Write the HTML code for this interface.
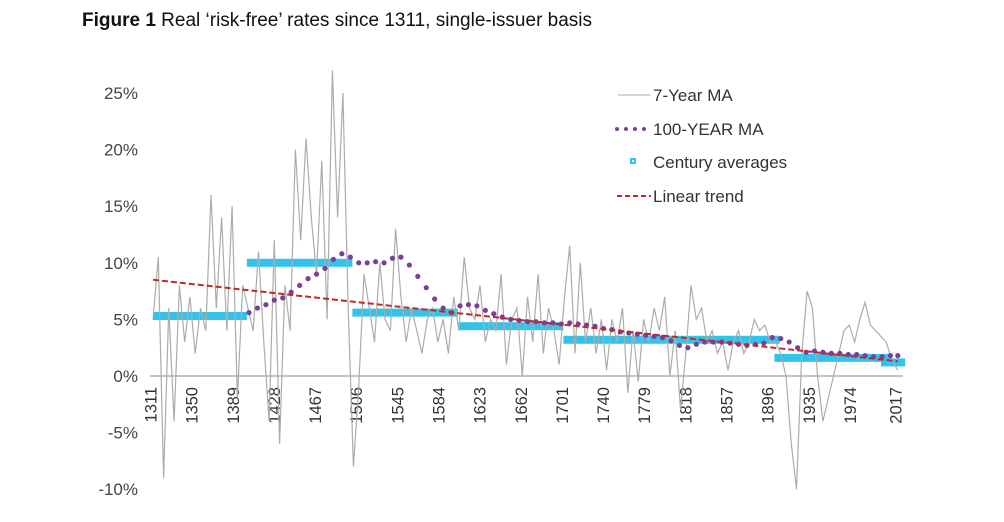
<!DOCTYPE html>
<html><head><meta charset="utf-8">
<style>
html,body{margin:0;padding:0;background:#fff;}
body{width:1004px;height:517px;overflow:hidden;font-family:"Liberation Sans",Arial,sans-serif;}
svg text{font-family:"Liberation Sans",Arial,sans-serif;}
</style></head>
<body>
<svg id="chart" width="1004" height="517" viewBox="0 0 1004 517" xmlns="http://www.w3.org/2000/svg">
<text x="82" y="26" font-size="19" fill="#111"><tspan font-weight="bold">Figure 1</tspan> Real ‘risk-free’ rates since 1311, single-issuer basis</text>
<g id="yaxis"></g>
<g id="xaxis"></g>
<g id="plot"></g>
<g id="legend">
<g><line x1="618" y1="95" x2="650" y2="95" stroke="#a9aea9" stroke-width="1"/><text x="653" y="101" font-size="17" fill="#333">7-Year MA</text></g>
<g><circle cx="617" cy="129" r="2" fill="#7b3f98"/><circle cx="626" cy="129" r="2" fill="#7b3f98"/><circle cx="635" cy="129" r="2" fill="#7b3f98"/><circle cx="644" cy="129" r="2" fill="#7b3f98"/><text x="653" y="135" font-size="17" fill="#333">100-YEAR MA</text></g>
<g><rect x="630" y="158" width="6" height="6" fill="#33c3ea"/><rect x="632" y="160" width="2" height="2" fill="#fff"/><text x="653" y="168" font-size="17" fill="#333">Century averages</text></g>
<g><line x1="617" y1="196" x2="651" y2="196" stroke="#c0282d" stroke-width="2" stroke-dasharray="5,3"/><text x="653" y="202" font-size="17" fill="#333">Linear trend</text></g>
</g>
</svg>
<script>
const yTicks=[25,20,15,10,5,0,-5,-10];
const xTicks=[1311,1350,1389,1428,1467,1506,1545,1584,1623,1662,1701,1740,1779,1818,1857,1896,1935,1974,2017];
const maYears=[1311,1316,1321,1326,1331,1336,1341,1346,1351,1356,1361,1366,1371,1376,1381,1386,1391,1396,1401,1406,1411,1416,1421,1426,1431,1436,1441,1446,1451,1456,1461,1466,1471,1476,1481,1486,1491,1496,1501,1506,1511,1516,1521,1526,1531,1536,1541,1546,1551,1556,1561,1566,1571,1576,1581,1586,1591,1596,1601,1606,1611,1616,1621,1626,1631,1636,1641,1646,1651,1656,1661,1666,1671,1676,1681,1686,1691,1696,1701,1706,1711,1716,1721,1726,1731,1736,1741,1746,1751,1756,1761,1766,1771,1776,1781,1786,1791,1796,1801,1806,1811,1816,1821,1826,1831,1836,1841,1846,1851,1856,1861,1866,1871,1876,1881,1886,1891,1896,1901,1906,1911,1916,1921,1926,1931,1936,1941,1946,1951,1956,1961,1966,1971,1976,1981,1986,1991,1996,2001,2006,2011,2017];
const maValues=[5,10.5,-9,6,-4,8,3,7,2,6,4,16,6,14,4,15,-2,8,6,4,11,3,-4,12,-6,8,4,20,12,21,14,9,19,5,27,14,25,6,-8,-1,9,6,3,10,5,4,13,7,3,6,4,2,5,6,3,5,2,7,4,10.5,6,5,8,3,5,4,9,1,5,6,0,7,3,9,2,6,4,1,7,11.5,2,10,3,6,2,5,0.5,5,3,6,-1.5,4,-0.5,5,3,6,4,7,0,4,-3,2,8,5,6,3,4,2,3,0.5,3,4,2,3,5,4,4.5,3,3,2,0,-6,-10,2,7.5,6,0,-4,-2,0,2,4,4.5,3,5,6.5,4.5,4,3.5,3,1.5,0.5];
const ma100Years=[1402,1410,1418,1426,1434,1442,1450,1458,1466,1474,1482,1490,1498,1506,1514,1522,1530,1538,1546,1554,1562,1570,1578,1586,1594,1602,1610,1618,1626,1634,1642,1650,1658,1666,1674,1682,1690,1698,1706,1714,1722,1730,1738,1746,1754,1762,1770,1778,1786,1794,1802,1810,1818,1826,1834,1842,1850,1858,1866,1874,1882,1890,1898,1906,1914,1922,1930,1938,1946,1954,1962,1970,1978,1986,1994,2002,2010,2017];
const ma100Values=[5.6,6.0,6.3,6.7,6.9,7.4,8.0,8.6,9.0,9.5,10.3,10.8,10.5,10.0,10.0,10.1,10.0,10.4,10.5,9.8,8.8,7.8,6.8,6.0,5.6,6.2,6.3,6.2,5.8,5.5,5.2,5.0,4.9,4.8,4.8,4.7,4.7,4.6,4.7,4.6,4.5,4.4,4.2,4.1,3.9,3.8,3.7,3.6,3.5,3.4,3.1,2.7,2.5,2.8,3.0,3.0,3.0,2.9,2.8,2.7,2.8,2.9,3.4,3.3,3.0,2.5,2.1,2.2,2.1,2.0,2.0,1.9,1.9,1.8,1.7,1.7,1.8,1.8];
const centStart=[1311,1400,1500,1600,1700,1800,1900,2001];
const centEnd=[1400,1500,1600,1700,1800,1905,2011,2024];
const centValues=[5.3,10.0,5.6,4.4,3.2,3.2,1.6,1.2];
const trendYears=[1311,2017];
const trendValues=[8.5,1.3];

const NS="http://www.w3.org/2000/svg";
function X(yr){return 153+(yr-1311)*1.055;}
function Y(v){return 376-v*11.32;}
function el(tag,attrs,parent){const e=document.createElementNS(NS,tag);for(const k in attrs)e.setAttribute(k,attrs[k]);parent.appendChild(e);return e;}
const ya=document.getElementById('yaxis'),xa=document.getElementById('xaxis'),pl=document.getElementById('plot');
yTicks.forEach(t=>{const e=el('text',{x:138,y:Y(t)+6,'text-anchor':'end','font-size':17,fill:'#444'},ya);


e.textContent=t+'%';});
const ax=el('line',{x1:150,y1:Y(0),x2:903,y2:Y(0),stroke:'#888','stroke-width':1},xa);


xTicks.forEach(t=>{const x=X(t)+3.5;const e=el('text',{x:x,y:387,'text-anchor':'end','font-size':16.5,fill:'#333',transform:'rotate(-90 '+x+' 387)'},xa);


e.textContent=t;});
centValues.forEach((v,i)=>{const r=el('rect',{x:X(centStart[i]),y:Y(v)-4,width:X(centEnd[i])-X(centStart[i]),height:8,fill:'#33c3ea'},pl);

});
const pts=maYears.map((y,i)=>X(y).toFixed(1)+','+Y(maValues[i]).toFixed(1)).join(' ');
const pline=el('polyline',{points:pts,fill:'none',stroke:'#a9aea9','stroke-width':1.2},pl);


ma100Years.forEach((y,i)=>{const c=el('circle',{cx:X(y),cy:Y(ma100Values[i]),r:2.6,fill:'#7b3f98'},pl);

});
const tl=el('line',{x1:X(trendYears[0]),y1:Y(trendValues[0]),x2:X(trendYears[1]),y2:Y(trendValues[1]),stroke:'#c0282d','stroke-width':2,'stroke-dasharray':'6,3'},pl);


</script>
</body></html>
